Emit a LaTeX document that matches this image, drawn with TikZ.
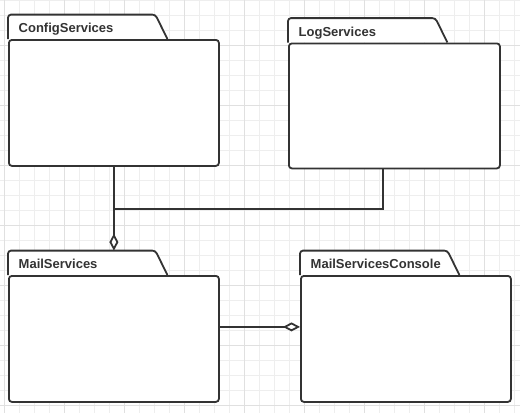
\documentclass[tikz,border=0pt]{standalone}
\usepackage{fontspec}
\setmainfont{Liberation Sans}
\usetikzlibrary{arrows.meta,calc}
\definecolor{ink}{HTML}{333333}
\definecolor{gridminor}{HTML}{EEEEEE}
\definecolor{gridmajor}{HTML}{E0E0E0}
\newcommand\umlpkg[6]{%
  \node[pkgtab] (#1tab) at (#2,#3) {};
  \path[tabline] (#1tab.south west) -- (#1tab.north west) -- ([xshift=-12pt]#1tab.north east) -- (#1tab.south east);
  \node[pkgbody, minimum width=#4pt, minimum height=#5pt] (#1) at (#2,#3) {};
  \node[pkglabel] (#1label) at ([xshift=10.5pt,yshift=-18pt]#1tab.north west) {#6};
}
\begin{document}
\begin{tikzpicture}[x=1pt,y=-1pt,
  pkgbody/.style={draw=ink, line width=1.8pt, fill=white, rounded corners=3pt, inner sep=0pt, anchor=north west},
  pkgtab/.style={inner sep=0pt, minimum width=159pt, minimum height=24pt, anchor=south west},
  tabline/.style={draw=ink, line width=1.8pt, fill=white, rounded corners=3pt},
  pkglabel/.style={font=\bfseries\fontsize{13}{15}\selectfont, text=ink, inner sep=0pt, anchor=base west},
  conn/.style={draw=ink, line width=1.8pt},
  agg/.style={-{Diamond[length=17pt,width=9pt,fill=white]}},
  gridline/.style={draw=gridminor, line width=1pt},
  gridbold/.style={draw=gridmajor, line width=1pt}
]
\useasboundingbox (0,0) rectangle (520,413);
\fill[white] (0,0) rectangle (520,413);
% grid
\foreach \i in {0,...,34} \draw[gridline] (4.5+15*\i,0) -- (4.5+15*\i,413);
\foreach \j in {0,...,27} \draw[gridline] (0,15*\j) -- (520,15*\j);
\foreach \i in {0,...,8} \draw[gridbold] (4.5+60*\i,0) -- (4.5+60*\i,413);
\foreach \j in {0,...,6} \draw[gridbold] (0,45+60*\j) -- (520,45+60*\j);
% packages
\umlpkg{cfg}{8}{39}{210}{126}{ConfigServices}
\umlpkg{log}{288}{42.5}{211}{125}{LogServices}
\umlpkg{mail}{8}{275}{210}{126}{MailServices}
\umlpkg{con}{300}{275}{210}{126}{MailServicesConsole}
% connectors
\coordinate (mailtop) at (cfg.south |- mailtab.north);
\draw[conn] ([xshift=-11.5pt]log.south) |- ($(cfg.south)!0.5!(mailtop)$);
\draw[conn, agg] (cfg.south) -- (mailtop);
\draw[conn, agg] ([yshift=12pt]mail.east) -- ([yshift=12pt]con.west);
\end{tikzpicture}
\end{document}
